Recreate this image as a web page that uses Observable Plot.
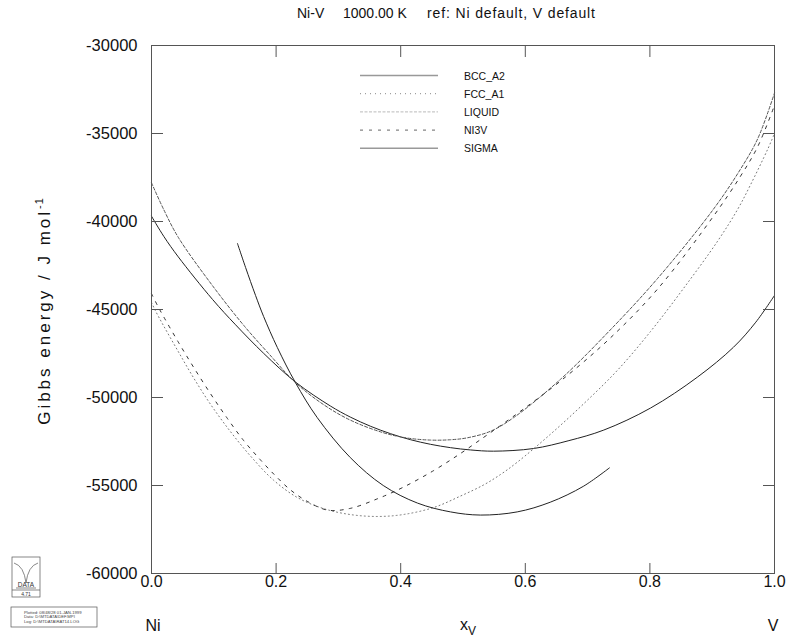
<!DOCTYPE html>
<html>
<head>
<meta charset="utf-8">
<script src="https://cdn.jsdelivr.net/npm/d3@7"></script>
<script src="https://cdn.jsdelivr.net/npm/@observablehq/plot@0.6"></script>
<style>
  html, body { margin: 0; padding: 0; background: #fff; }
  svg { display: block; }
</style>
</head>
<body>
<div id="chart"></div>
<script>
// ---- data ----
const phases = ["BCC_A2", "FCC_A1", "LIQUID", "NI3V", "SIGMA"];

const bccX = [0, 0.02, 0.043, 0.098, 0.135, 0.18, 0.231, 0.287, 0.319, 0.352, 0.384, 0.416, 0.448, 0.48, 0.512, 0.549, 0.613, 0.67, 0.726, 0.801, 0.876, 0.934, 0.97, 1.0];
const bccG = [-39700, -40860, -42010, -44430, -45870, -47490, -49120, -50480, -51110, -51640, -52060, -52400, -52660, -52850, -52980, -53050, -52900, -52450, -51850, -50600, -48850, -47150, -45720, -44200];

const fccX = [0, 0.006, 0.019, 0.042, 0.067, 0.095, 0.127, 0.159, 0.196, 0.234, 0.276, 0.319, 0.363, 0.404, 0.453, 0.496, 0.533, 0.56, 0.587, 0.64, 0.693, 0.748, 0.801, 0.854, 0.909, 0.941, 0.961, 0.989, 1.0];
const fccG = [-44600, -45050, -45900, -47330, -48850, -50400, -51950, -53330, -54700, -55680, -56310, -56650, -56760, -56650, -56250, -55600, -54970, -54380, -53680, -52100, -50380, -48450, -46250, -43800, -41100, -39300, -37950, -35900, -35000];

const liqX = [0, 0.02, 0.043, 0.098, 0.148, 0.19, 0.231, 0.276, 0.32, 0.372, 0.41, 0.448, 0.48, 0.507, 0.544, 0.581, 0.657, 0.734, 0.812, 0.902, 0.945, 0.973, 1.0];
const liqG = [-37800, -39350, -40900, -43650, -45900, -47580, -49150, -50400, -51300, -52000, -52300, -52420, -52400, -52290, -51920, -51150, -48950, -46250, -43250, -39300, -37050, -35300, -32700];

const ni3vX = [0, 0.01, 0.019, 0.043, 0.067, 0.095, 0.122, 0.148, 0.175, 0.199, 0.223, 0.25, 0.283, 0.319, 0.363, 0.404, 0.453, 0.496, 0.533, 0.56, 0.6, 0.657, 0.734, 0.812, 0.902, 0.945, 0.973, 1.0];
const ni3vG = [-44100, -44800, -45380, -46850, -48250, -49800, -51200, -52450, -53550, -54450, -55250, -55900, -56400, -56300, -55750, -55100, -54150, -53180, -52270, -51600, -50580, -49050, -46700, -43850, -39700, -37450, -35750, -33400];

const sigX = [0.138, 0.151, 0.167, 0.18, 0.202, 0.231, 0.266, 0.319, 0.372, 0.427, 0.48, 0.528, 0.587, 0.64, 0.693, 0.735];
const sigG = [-41250, -42610, -44200, -45400, -47160, -49150, -51140, -53410, -55000, -56000, -56500, -56680, -56500, -55950, -55050, -54000];

const xTicks = [0, 0.2, 0.4, 0.6, 0.8, 1.0];
const yTicks = [-30000, -35000, -40000, -45000, -50000, -55000, -60000];

// ---- build tables ----
const series = {
  BCC_A2: bccX.map((x, i) => ({x, g: bccG[i]})),
  FCC_A1: fccX.map((x, i) => ({x, g: fccG[i]})),
  LIQUID: liqX.map((x, i) => ({x, g: liqG[i]})),
  NI3V: ni3vX.map((x, i) => ({x, g: ni3vG[i]})),
  SIGMA: sigX.map((x, i) => ({x, g: sigG[i]}))
};

const curveStyle = {
  BCC_A2: {stroke: "#222", strokeWidth: 1},
  FCC_A1: {stroke: "#777", strokeWidth: 1, strokeDasharray: "1,3"},
  LIQUID: {stroke: "#555", strokeWidth: 1, strokeDasharray: "3,2"},
  NI3V:   {stroke: "#333", strokeWidth: 1, strokeDasharray: "3,6"},
  SIGMA:  {stroke: "#222", strokeWidth: 1}
};
const legendStyle = {
  BCC_A2: {stroke: "#999", width: 1.5, dash: null},
  FCC_A1: {stroke: "#888", width: 1, dash: "1,4"},
  LIQUID: {stroke: "#bbb", width: 1, dash: "3,1.5"},
  NI3V:   {stroke: "#666", width: 1, dash: "3,6"},
  SIGMA:  {stroke: "#999", width: 1.5, dash: null}
};

const font = "'Liberation Sans', Arial, Helvetica, sans-serif";

const svg = Plot.plot({
  width: 786,
  height: 637,
  marginLeft: 151,
  marginRight: 12,
  marginTop: 45,
  marginBottom: 64,
  style: {fontFamily: font, background: "#fff", color: "#111", overflow: "visible"},
  x: {domain: [0, 1]},
  y: {domain: [-60000, -30000]},
  marks: [
    ...phases.map(p => Plot.line(series[p], {x: "x", y: "g", curve: "catmull-rom", ...curveStyle[p]})),
    Plot.frame({stroke: "#555"}),
    Plot.axisX({anchor: "bottom", ticks: xTicks, tickSize: -10, tickPadding: 12, tickFormat: d3.format(".1f"), fontSize: 16, label: null, stroke: "#555"}),
    Plot.axisX({anchor: "top", ticks: xTicks, tickSize: -11, tickFormat: () => "", label: null, stroke: "#555"}),
    Plot.axisY({anchor: "left", ticks: yTicks, tickSize: -12, tickPadding: 26, tickFormat: d => String(d), fontSize: 16.5, label: null, stroke: "#555"}),
    Plot.axisY({anchor: "right", ticks: yTicks, tickSize: -12, tickFormat: () => "", label: null, stroke: "#555"})
  ]
});

const s = d3.select(svg);

// title (pieces placed as in the reference)
const title = s.append("text")
  .attr("y", 18).attr("text-anchor", "start")
  .style("font-family", font).style("font-size", "14px").attr("fill", "#111");
title.append("tspan").attr("x", 297).text("Ni-V");
title.append("tspan").attr("x", 343).text("1000.00 K");
title.append("tspan").attr("x", 427).attr("textLength", 168).attr("lengthAdjust", "spacing").text("ref: Ni default, V default");

// y label
const yl = s.append("text")
  .attr("transform", "translate(50,311) rotate(-90)")
  .attr("text-anchor", "middle")
  .style("font-family", font).style("font-size", "17px").style("letter-spacing", "3px").attr("fill", "#111");
yl.append("tspan").text("Gibbs energy / J mol");
yl.append("tspan").attr("dy", -7).style("font-size", "11px").style("letter-spacing", "1px").text("-1");

// x label & end labels
const bottomLabels = s.append("g").style("font-family", font).style("font-size", "16px").attr("fill", "#111");
bottomLabels.append("text").attr("x", 153).attr("y", 631).attr("text-anchor", "middle").text("Ni");
bottomLabels.append("text").attr("x", 773).attr("y", 631).attr("text-anchor", "middle").text("V");
const xl = bottomLabels.append("text").attr("x", 460).attr("y", 630).attr("text-anchor", "start");
xl.append("tspan").text("x");
xl.append("tspan").attr("dy", 5).style("font-size", "12px").text("V");

// legend
const lg = s.append("g").style("font-family", font).style("font-size", "10.5px").attr("fill", "#111");
phases.forEach((p, i) => {
  const y = 75.5 + i * 18.2;
  const st = legendStyle[p];
  lg.append("line").attr("x1", 360).attr("x2", 438).attr("y1", y).attr("y2", y)
    .attr("stroke", st.stroke).attr("stroke-width", st.width)
    .attr("stroke-dasharray", st.dash);
  lg.append("text").attr("x", 464).attr("y", y + 4).attr("text-anchor", "start").text(p);
});

// logo
const logo = s.append("g").attr("fill", "none").attr("stroke", "#555").attr("stroke-width", 0.7);
logo.append("rect").attr("x", 12).attr("y", 557).attr("width", 28).attr("height", 40);
logo.append("line").attr("x1", 12).attr("x2", 40).attr("y1", 590).attr("y2", 590);
logo.append("path").attr("d", "M14,563 Q24,566 26,583 Q28,566 38,563");
logo.append("line").attr("x1", 16).attr("x2", 36).attr("y1", 588).attr("y2", 588);
logo.append("text").attr("x", 26).attr("y", 587).attr("text-anchor", "middle")
  .attr("fill", "#333").attr("stroke", "none").style("font-family", font).style("font-size", "6.5px").text("DATA");
logo.append("text").attr("x", 26).attr("y", 596).attr("text-anchor", "middle")
  .attr("fill", "#333").attr("stroke", "none").style("font-family", font).style("font-size", "5px").text("4.71");
logo.append("rect").attr("x", 11).attr("y", 607).attr("width", 86).attr("height", 20);
const info = ["Plotted: 08/48/28 01-JAN-1999", "Data: D:\\MTDATA\\DEF.MPI", "Log: D:\\MTDATA\\RAT14.LOG"];
info.forEach((t, i) => {
  logo.append("text").attr("x", 24).attr("y", 613.5 + i * 4.6).attr("text-anchor", "start")
    .attr("fill", "#444").attr("stroke", "none").style("font-family", font).style("font-size", "4.2px").text(t);
});

document.getElementById("chart").appendChild(svg);
</script>
</body>
</html>
